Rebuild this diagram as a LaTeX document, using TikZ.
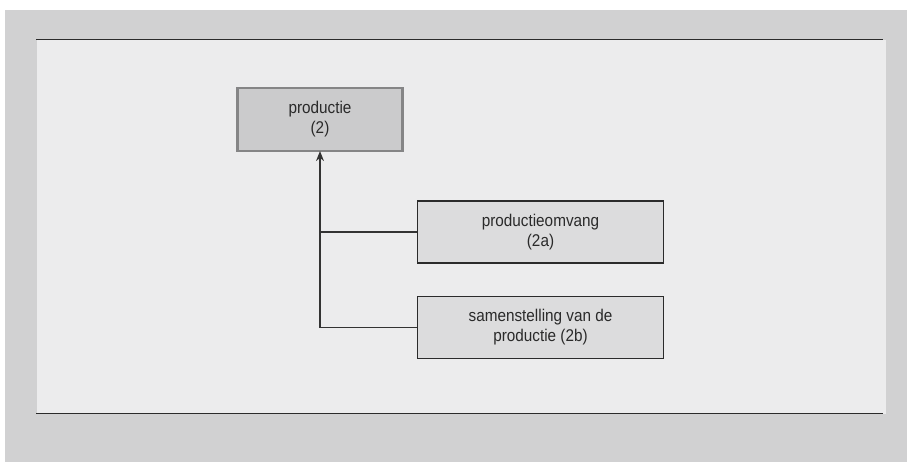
\documentclass[tikz,border=0pt]{standalone}
\usepackage{fontspec}
\setmainfont{Liberation Sans}[FakeStretch=0.9]
\usetikzlibrary{arrows.meta}
\definecolor{outerbg}{HTML}{D1D1D2}
\definecolor{panelbg}{HTML}{ECECED}
\definecolor{topfill}{HTML}{CBCBCC}
\definecolor{topborder}{HTML}{858586}
\definecolor{boxfill}{HTML}{DCDCDD}
\definecolor{boxborder}{HTML}{2B2B2B}
\definecolor{txt}{HTML}{2A2A2A}
\definecolor{linecol}{HTML}{333333}
\tikzset{
  basebox/.style={rectangle, align=center, inner sep=0pt, text=txt,
    font=\fontsize{17}{20}\selectfont},
  topbox/.style={basebox, fill=topfill, draw=topborder, line width=2.2pt,
    minimum width=165pt, minimum height=63pt},
  subbox/.style={basebox, fill=boxfill, draw=boxborder, line width=1.6pt,
    minimum width=246pt, minimum height=62pt},
  conn/.style={draw=linecol, line width=1.4pt},
  rule/.style={draw=boxborder, line width=1.8pt}
}
\begin{document}
\begin{tikzpicture}[x=1pt,y=-1pt]
\useasboundingbox (0,0) rectangle (907,462);
\fill[white] (0,0) rectangle (907,462);
\fill[outerbg] (5,10) rectangle (907,462);
\fill[panelbg] (37,40) rectangle (886,414);
\coordinate (rtl) at (36,39.5);
\coordinate (rtr) at (883,39.5);
\coordinate (rbl) at (36,413.5);
\coordinate (rbr) at (883,413.5);
\draw[rule] (rtl) -- (rtr);
\draw[rule] (rbl) -- (rbr);

\node[topbox] (prod) at (320,119.5) {productie\\(2)};
\node[subbox] (omv) at (540.5,232) {productieomvang\\(2a)};
\node[subbox] (sam) at (540.5,327.5) {samenstelling van de\\productie (2b)};

\draw[conn, -{Stealth[length=10pt,width=8pt]}] (sam.west) -| ([yshift=1pt]prod.south);
\draw[conn] (omv.west) -- (omv.west -| prod.south);
\end{tikzpicture}
\end{document}
